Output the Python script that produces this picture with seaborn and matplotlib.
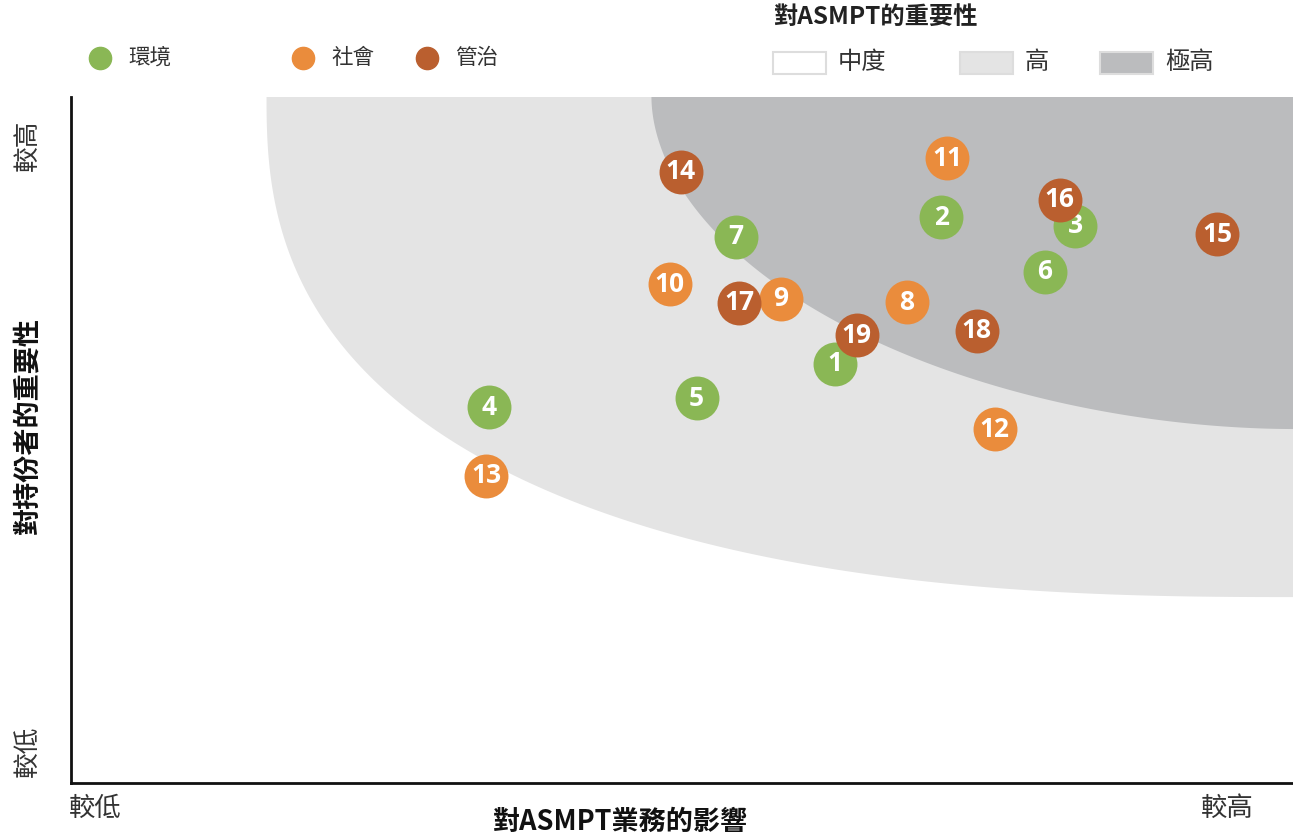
import numpy as np
import pandas as pd
import seaborn as sns
import matplotlib.pyplot as plt
from matplotlib.lines import Line2D
from matplotlib.patches import Rectangle

# topic number, category, position on the materiality matrix (0-100 scale)
topic_ids = [1, 2, 3, 4, 5, 6, 7, 8, 9, 10, 11, 12, 13, 14, 15, 16, 17, 18, 19]
categories = ['環境', '環境', '環境', '環境', '環境', '環境', '環境',
              '社會', '社會', '社會', '社會', '社會', '社會',
              '管治', '管治', '管治', '管治', '管治', '管治']
impact = [62.5, 71.2, 82.2, 34.2, 51.2, 79.7, 54.4, 68.4, 58.1, 49.0,
          71.7, 75.6, 34.0, 49.9, 93.8, 80.9, 54.7, 74.1, 64.3]
importance = [61.1, 82.5, 81.2, 54.8, 56.1, 74.5, 79.6, 70.1, 70.6, 72.7,
              91.1, 51.6, 44.8, 89.1, 80.0, 85.0, 70.0, 65.9, 65.3]

cat_names = ['環境', '社會', '管治']
cat_colors = ['#8ab755', '#ea8c3c', '#ba5f2f']
level_names = ['中度', '高', '極高']
level_colors = ['#ffffff', '#e4e4e4', '#bbbcbe']

df = pd.DataFrame({'id': topic_ids, 'cat': categories,
                   'x': impact, 'y': importance})

sns.set_style('white')
plt.rcParams['font.family'] = ['Noto Sans CJK TC', 'DejaVu Sans']

W, H = 1293, 839
fig = plt.figure(figsize=(W / 100, H / 100), dpi=100)
ax = fig.add_axes([71 / W, 1 - 783 / H, 1 - 71 / W, (783 - 97) / H])
ax.set_xlim(0, 100)
ax.set_ylim(0, 100)


def zone(a, b, n):
    t = np.linspace(0, np.pi / 2, 200)
    xs = 100 - a * np.cos(t) ** (2 / n)
    ys = 100 - b * np.sin(t) ** (2 / n)
    xs = np.concatenate([xs, [100]])
    ys = np.concatenate([ys, [100]])
    return xs, ys


xs, ys = zone(84.0, 72.9, 2.5)
ax.fill(xs, ys, color=level_colors[1], lw=0, zorder=0)
xs, ys = zone(52.5, 48.4, 1.9)
ax.fill(xs, ys, color=level_colors[2], lw=0, zorder=0)

sns.scatterplot(data=df, x='x', y='y', hue='cat', hue_order=cat_names,
                palette=cat_colors, s=1000, linewidth=0, legend=False,
                ax=ax, zorder=3)
ax.collections[-1].remove()
# redraw in numeric order so later topics overlap earlier ones
for i, row in df.iterrows():
    col = cat_colors[cat_names.index(row['cat'])]
    ax.scatter(row['x'], row['y'], s=1000, color=col, lw=0, zorder=3 + i * 0.01)
    ax.text(row['x'], row['y'], str(row['id']), color='white',
            fontsize=19, fontweight='bold', family=['Open Sans', 'DejaVu Sans'],
            ha='center', va='center', zorder=3 + i * 0.01 + 0.005)

ax.set_xticks([])
ax.set_yticks([])
ax.set_xlabel('')
ax.set_ylabel('')
for s in ['top', 'right']:
    ax.spines[s].set_visible(False)
for s in ['left', 'bottom']:
    ax.spines[s].set_color('#111111')
    ax.spines[s].set_linewidth(2)

txt = '#333333'
# axis captions
fig.text(95 / W, 1 - 808 / H, '較低', ha='center', va='center', fontsize=19, color=txt)
fig.text(1227 / W, 1 - 808 / H, '較高', ha='center', va='center', fontsize=19, color=txt)
fig.text(621 / W, 1 - 822 / H, '對ASMPT業務的影響', ha='center', va='center',
         fontsize=19.5, fontweight='bold', color='#111111')
fig.text(28 / W, 1 - 145 / H, '較高', ha='center', va='center', fontsize=18.5,
         color=txt, rotation=90)
fig.text(28 / W, 1 - 751 / H, '較低', ha='center', va='center', fontsize=18.5,
         color=txt, rotation=90)
fig.text(28 / W, 1 - 425 / H, '對持份者的重要性', ha='center', va='center',
         fontsize=19.5, fontweight='bold', color='#111111', rotation=90)

# category legend
for name, col, cx in zip(cat_names, cat_colors, [100, 303, 427]):
    fig.add_artist(Line2D([cx / W], [1 - 58 / H], marker='o', ms=16, color=col,
                          mec=col, lw=0, transform=fig.transFigure))
    fig.text((cx + 28) / W, 1 - 58 / H, name, ha='left', va='center',
             fontsize=15.5, color=txt)

# importance legend
fig.text(773 / W, 1 - 17 / H, '對ASMPT的重要性', ha='left', va='center',
         fontsize=17.5, fontweight='bold', color='#222222')
for name, col, rx in zip(level_names, level_colors, [773, 960, 1100]):
    fig.add_artist(Rectangle((rx / W, 1 - 74 / H), 53 / W, 22 / H,
                             facecolor=col, edgecolor='#dddddd', lw=1.5,
                             transform=fig.transFigure))
    fig.text((rx + 65) / W, 1 - 62 / H, name, ha='left', va='center',
             fontsize=17.5, color=txt)

fig.savefig('out.png', dpi=100)
